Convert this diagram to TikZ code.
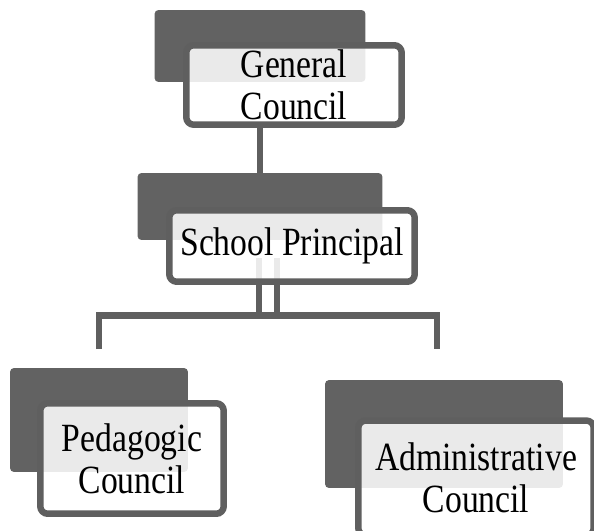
\documentclass[tikz,border=0pt]{standalone}
\usepackage{fontspec}
\setmainfont{Liberation Serif}[FakeStretch=0.84]
\usepackage{tikz}
\usetikzlibrary{backgrounds}
\definecolor{boxgray}{RGB}{98,98,98}
\definecolor{linegray}{RGB}{95,95,95}

\begin{document}
\begin{tikzpicture}[x=0.02cm, y=-0.02cm,
    backbox/.style={fill=boxgray, rounded corners=0.08cm, inner sep=0pt},
    frontbox/.style={draw=linegray, line width=0.13cm, fill=white, fill opacity=0.87,
        text opacity=1, rounded corners=0.15cm, inner sep=0pt, align=center,
        font=\fontsize{22.8}{23.9}\selectfont},
    link/.style={draw=linegray, line width=0.13cm}]
    \useasboundingbox (0,0) rectangle (594,530);

    % dark tabs behind each box
    \node[backbox, minimum width=4.22cm, minimum height=1.44cm] (gcback) at (260,46) {};
    \node[backbox, minimum width=4.9cm, minimum height=1.34cm] (spback) at (260,206.5) {};
    \node[backbox, minimum width=3.56cm, minimum height=2.08cm] (pcback) at (99,420) {};
    \node[backbox, minimum width=4.76cm, minimum height=2.16cm] (acback) at (444,434) {};

    % white boxes with the names
    \node[frontbox, minimum width=4.31cm, minimum height=1.59cm] (gcfront) at (294,85) {General\\Council};
    \node[frontbox, minimum width=4.91cm, minimum height=1.43cm] (spfront) at (292,246) {School Principal};
    \node[frontbox, minimum width=3.67cm, minimum height=2.21cm] (pcfront) at (132,458.5) {Pedagogic\\Council};
    \node[frontbox, minimum width=4.71cm, minimum height=2.3cm] (acfront) at (476,478) {Administrative\\Council};

    \coordinate (split) at (268,258);
    \coordinate (hub) at (268,315.5);
    \coordinate (pcdrop) at (99,349);
    \coordinate (acdrop) at (437,349);

    \begin{scope}[on background layer]
        \draw[link] (gcback |- gcfront.south) -- (spback.north);
        \draw[link, line width=0.12cm, double=white, double distance=0.24cm] (split) -- (hub);
        \draw[link] (pcdrop) |- (hub) -| (acdrop);
    \end{scope}
\end{tikzpicture}
\end{document}
